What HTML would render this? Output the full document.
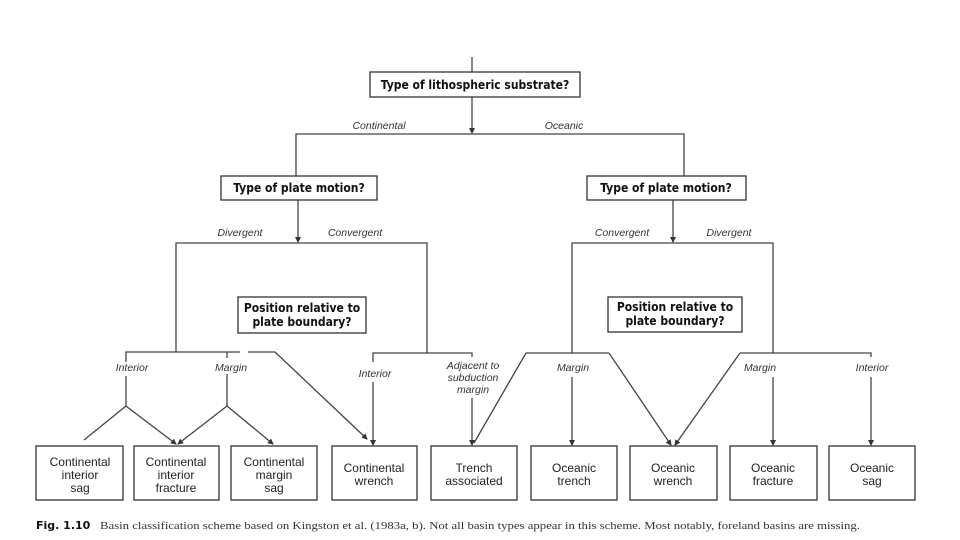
<!DOCTYPE html>
<html><head><meta charset="utf-8"><style>
html,body{margin:0;padding:0;background:#fff;}
svg{display:block;}
.b{font-family:"DejaVu Sans Condensed","DejaVu Sans","Liberation Sans",sans-serif;font-weight:bold;font-size:12px;fill:#111;}
.t{font-family:"Liberation Sans",sans-serif;font-size:12px;fill:#222;}
.i{font-family:"Liberation Sans",sans-serif;font-style:italic;font-size:10.5px;fill:#333;}
.c{font-family:"Liberation Serif",serif;font-size:10.5px;fill:#333;}
</style></head><body>
<svg width="960" height="540" viewBox="0 0 960 540" xmlns="http://www.w3.org/2000/svg">
<defs><marker id="a" markerWidth="6" markerHeight="6" refX="5" refY="3" orient="auto" markerUnits="userSpaceOnUse"><path d="M0,0 L6,3 L0,6 z" fill="#333"/></marker></defs>
<g stroke="#444" stroke-width="1.3" fill="none">
<line x1="472" y1="57" x2="472" y2="73"/>
<line x1="472" y1="97" x2="472" y2="133" marker-end="url(#a)"/>
<polyline points="296,176 296,134 684,134 684,176"/>
<line x1="298" y1="200" x2="298" y2="242" marker-end="url(#a)"/>
<polyline points="176,352 176,243 427,243 427,353"/>
<line x1="673" y1="200" x2="673" y2="242" marker-end="url(#a)"/>
<polyline points="572,353 572,243 773,243 773,353"/>
<polyline points="126,362 126,352 240,352"/>
<line x1="248" y1="352" x2="275" y2="352"/>
<line x1="275" y1="352" x2="367" y2="439" marker-end="url(#a)"/>
<line x1="126" y1="376" x2="126" y2="406"/>
<line x1="126" y1="406" x2="84" y2="440"/>
<line x1="126" y1="406" x2="176" y2="444" marker-end="url(#a)"/>
<line x1="227" y1="352" x2="227" y2="358"/>
<line x1="227" y1="374" x2="227" y2="406"/>
<line x1="227" y1="406" x2="178" y2="444" marker-end="url(#a)"/>
<line x1="227" y1="406" x2="273" y2="444" marker-end="url(#a)"/>
<polyline points="373,362 373,353 472,353 472,357"/>
<line x1="373" y1="382" x2="373" y2="445" marker-end="url(#a)"/>
<line x1="472" y1="398" x2="472" y2="445" marker-end="url(#a)"/>
<polyline points="474,443 526,353 609,353"/>
<line x1="609" y1="353" x2="671" y2="445" marker-end="url(#a)"/>
<line x1="572" y1="377" x2="572" y2="445" marker-end="url(#a)"/>
<polyline points="740,353 871,353 871,357"/>
<line x1="740" y1="353" x2="675" y2="445" marker-end="url(#a)"/>
<line x1="773" y1="377" x2="773" y2="445" marker-end="url(#a)"/>
<line x1="871" y1="377" x2="871" y2="445" marker-end="url(#a)"/>
</g>
<g fill="#fff" stroke="#333" stroke-width="1.3">
<rect x="370" y="72" width="210" height="25"/>
<rect x="221" y="176" width="156" height="24"/>
<rect x="587" y="176" width="159" height="24"/>
<rect x="238" y="297" width="128" height="36"/>
<rect x="608" y="297" width="134" height="35"/>
<rect x="36" y="446" width="87" height="54"/>
<rect x="134" y="446" width="85" height="54"/>
<rect x="231" y="446" width="86" height="54"/>
<rect x="332" y="446" width="85" height="54"/>
<rect x="431" y="446" width="86" height="54"/>
<rect x="531" y="446" width="86" height="54"/>
<rect x="630" y="446" width="87" height="54"/>
<rect x="730" y="446" width="87" height="54"/>
<rect x="829" y="446" width="86" height="54"/>
</g>
<g text-anchor="middle">
<text class="b" x="475" y="89">Type of lithospheric substrate?</text>
<text class="b" x="299" y="192">Type of plate motion?</text>
<text class="b" x="666" y="192">Type of plate motion?</text>
<text class="b" x="302" y="312">Position relative to</text>
<text class="b" x="302" y="326">plate boundary?</text>
<text class="b" x="675" y="311">Position relative to</text>
<text class="b" x="675" y="325">plate boundary?</text>
<text class="i" x="379" y="129">Continental</text>
<text class="i" x="564" y="129">Oceanic</text>
<text class="i" x="240" y="236">Divergent</text>
<text class="i" x="355" y="236">Convergent</text>
<text class="i" x="622" y="236">Convergent</text>
<text class="i" x="729" y="236">Divergent</text>
<text class="i" x="132" y="371">Interior</text>
<text class="i" x="231" y="371">Margin</text>
<text class="i" x="375" y="377">Interior</text>
<text class="i" x="473" y="369">Adjacent to</text>
<text class="i" x="473" y="381">subduction</text>
<text class="i" x="473" y="393">margin</text>
<text class="i" x="573" y="371">Margin</text>
<text class="i" x="760" y="371">Margin</text>
<text class="i" x="872" y="371">Interior</text>
<text class="t" x="80" y="466">Continental</text><text class="t" x="80" y="479">interior</text><text class="t" x="80" y="492">sag</text>
<text class="t" x="176" y="466">Continental</text><text class="t" x="176" y="479">interior</text><text class="t" x="176" y="492">fracture</text>
<text class="t" x="274" y="466">Continental</text><text class="t" x="274" y="479">margin</text><text class="t" x="274" y="492">sag</text>
<text class="t" x="374" y="472">Continental</text><text class="t" x="374" y="485">wrench</text>
<text class="t" x="474" y="472">Trench</text><text class="t" x="474" y="485">associated</text>
<text class="t" x="574" y="472">Oceanic</text><text class="t" x="574" y="485">trench</text>
<text class="t" x="673" y="472">Oceanic</text><text class="t" x="673" y="485">wrench</text>
<text class="t" x="773" y="472">Oceanic</text><text class="t" x="773" y="485">fracture</text>
<text class="t" x="872" y="472">Oceanic</text><text class="t" x="872" y="485">sag</text>
</g>
<text x="36" y="529" font-family="DejaVu Sans, sans-serif" font-weight="bold" font-size="11" fill="#111">Fig. 1.10</text>
<text x="100" y="529" class="c" textLength="760" lengthAdjust="spacingAndGlyphs">Basin classification scheme based on Kingston et al. (1983a, b). Not all basin types appear in this scheme. Most notably, foreland basins are missing.</text>
</svg>
</body></html>
